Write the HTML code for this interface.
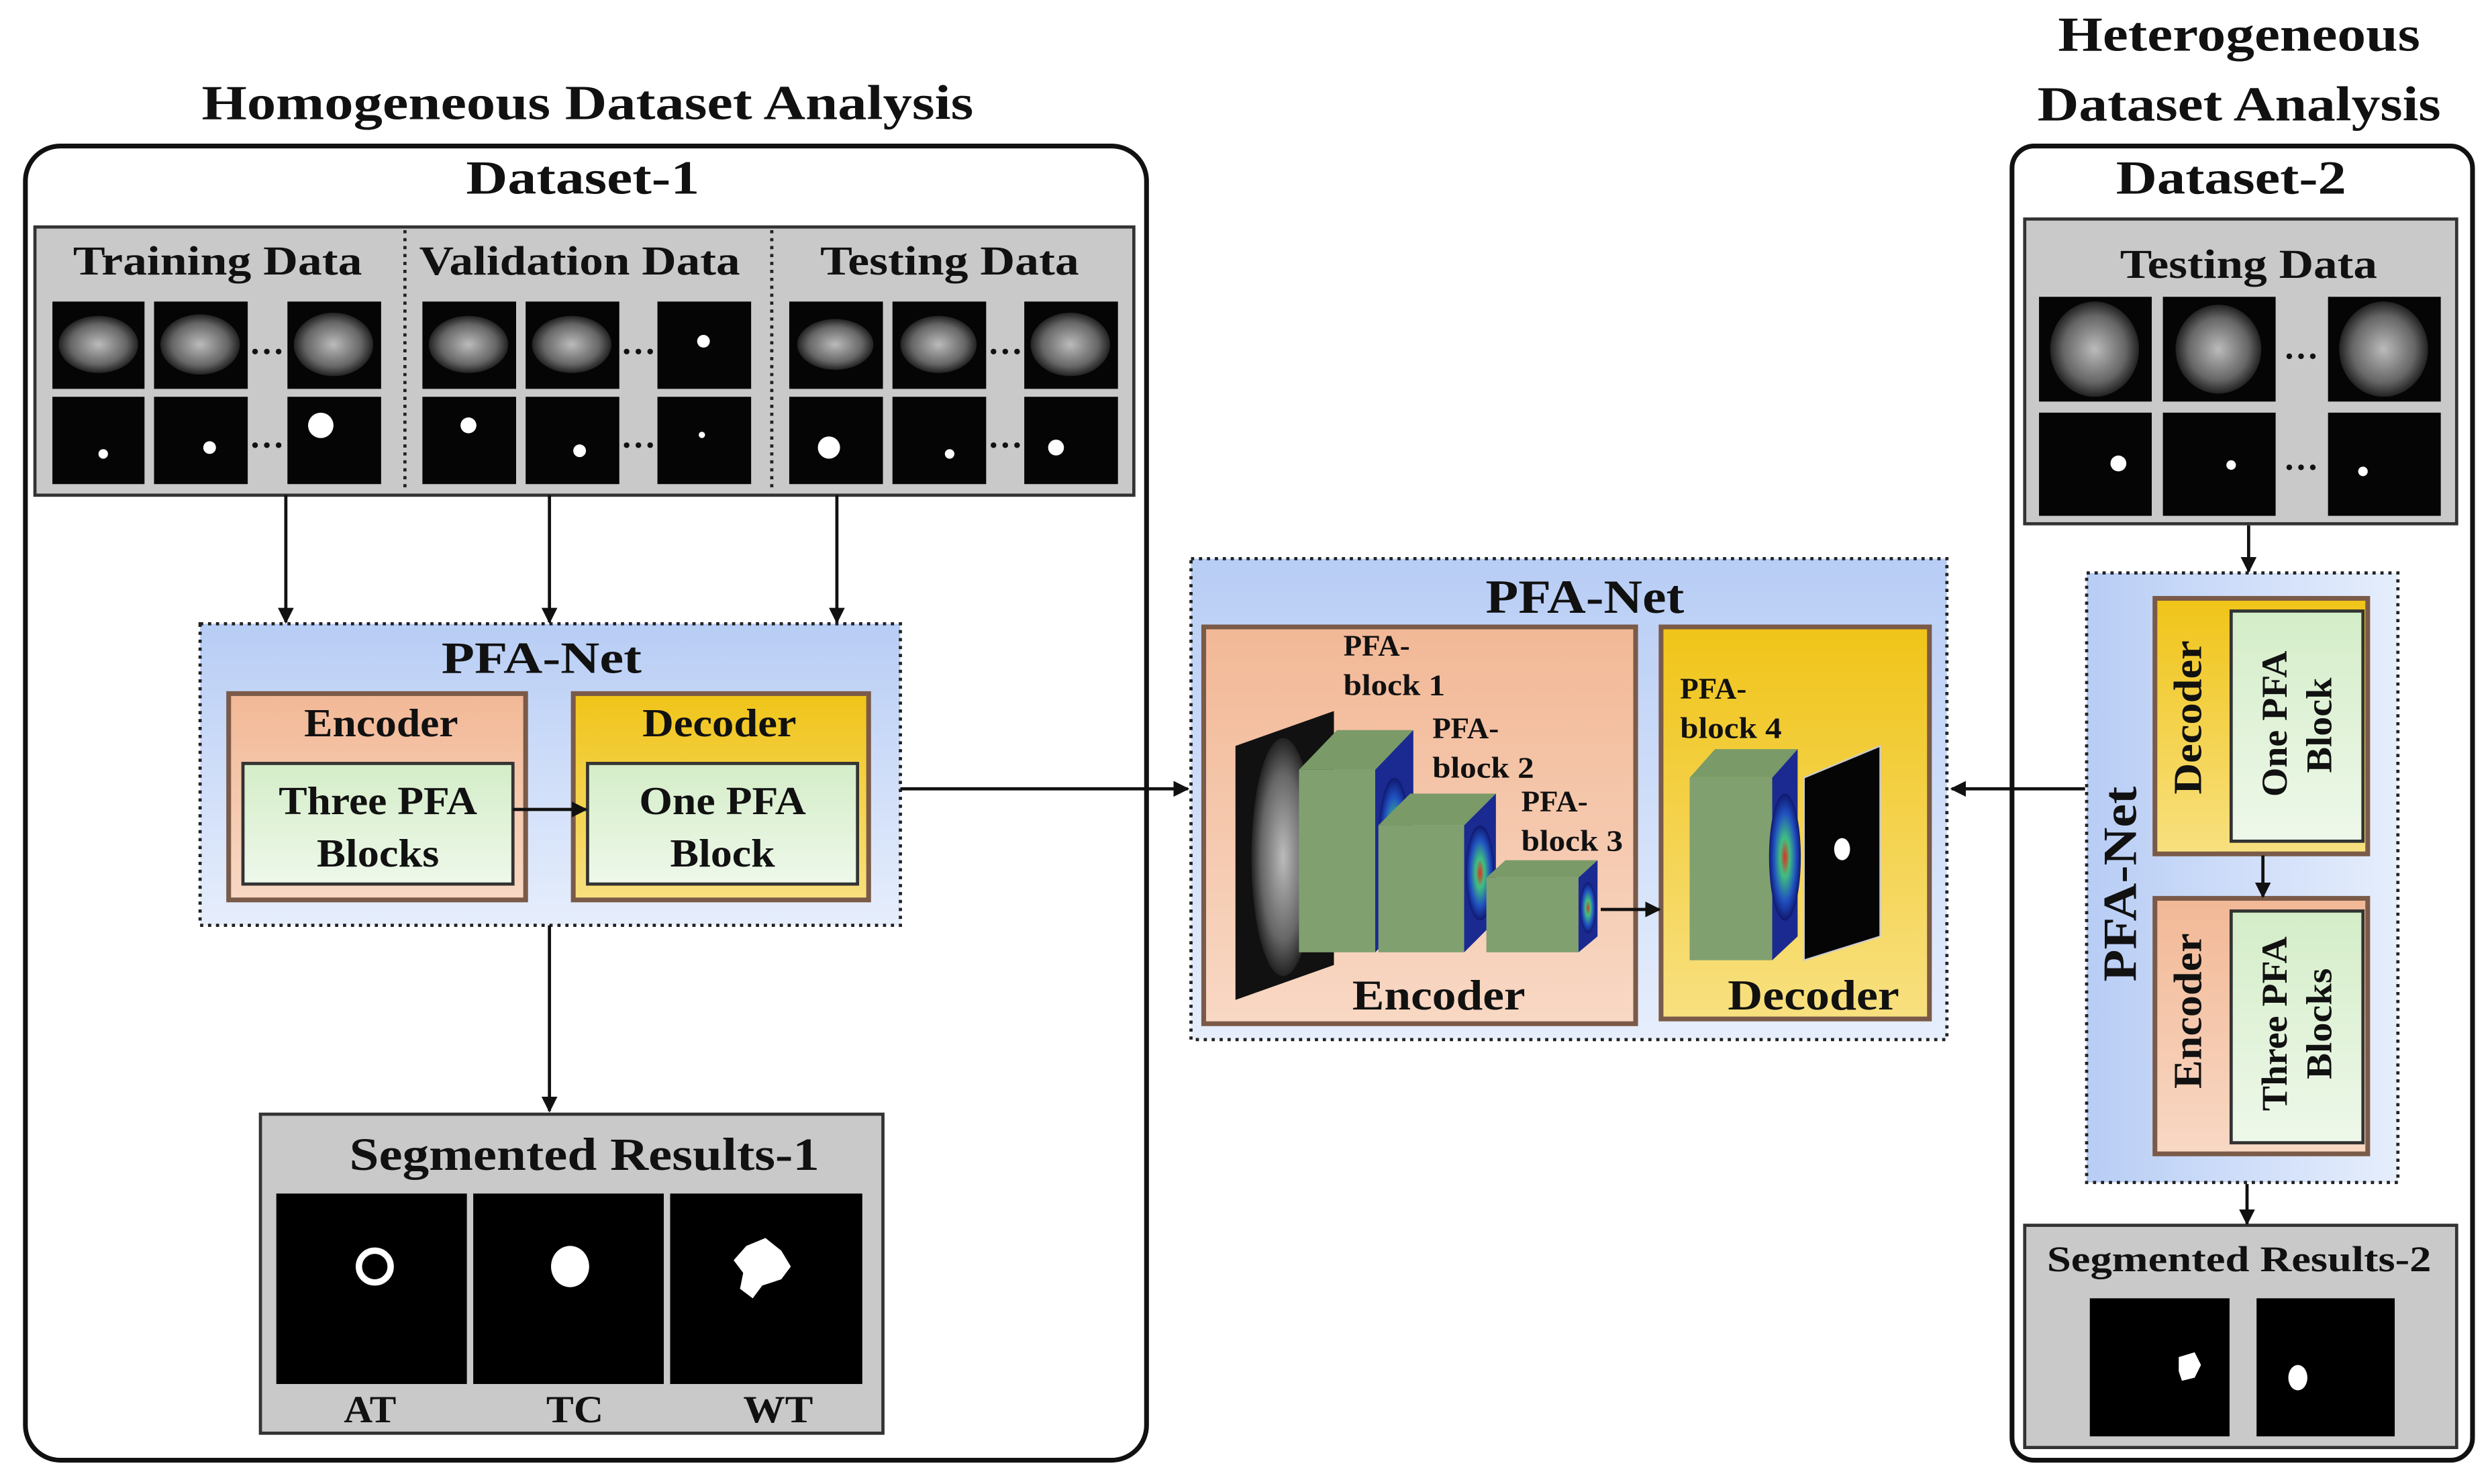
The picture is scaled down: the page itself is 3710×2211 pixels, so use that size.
<!DOCTYPE html>
<html><head><meta charset="utf-8"><style>
html,body{margin:0;padding:0;background:#fff;}
svg{display:block;}
text{font-family:"Liberation Serif",serif;font-weight:bold;fill:#111;}
</style></head><body>
<svg width="3710" height="2211" viewBox="0 0 1568 935" preserveAspectRatio="none" xmlns="http://www.w3.org/2000/svg">
<defs>
<marker id="ah" markerWidth="10" markerHeight="10" refX="9" refY="5" orient="auto" markerUnits="userSpaceOnUse">
<path d="M0,0 L10,5 L0,10 z" fill="#111"/></marker>
<linearGradient id="blue" x1="0" y1="0" x2="0" y2="1"><stop offset="0" stop-color="#b8cdf5"/><stop offset="1" stop-color="#e6eefc"/></linearGradient>
<linearGradient id="blueh" x1="0" y1="0" x2="1" y2="0"><stop offset="0" stop-color="#b8cdf5"/><stop offset="1" stop-color="#e6eefc"/></linearGradient>
<linearGradient id="sal" x1="0" y1="0" x2="0" y2="1"><stop offset="0" stop-color="#f2b896"/><stop offset="1" stop-color="#f8d8c4"/></linearGradient>
<linearGradient id="gold" x1="0" y1="0" x2="0" y2="1"><stop offset="0" stop-color="#f0c418"/><stop offset="1" stop-color="#f8e080"/></linearGradient>
<linearGradient id="grn" x1="0" y1="0" x2="0" y2="1"><stop offset="0" stop-color="#d4edc8"/><stop offset="1" stop-color="#eef8ea"/></linearGradient>
<radialGradient id="brain"><stop offset="0" stop-color="#bbb"/><stop offset="0.7" stop-color="#666"/><stop offset="1" stop-color="#222"/></radialGradient>
<radialGradient id="heat"><stop offset="0" stop-color="#e03020"/><stop offset="0.3" stop-color="#40c080"/><stop offset="0.7" stop-color="#2050c0"/><stop offset="1" stop-color="#101870"/></radialGradient>
</defs>

<text x="370" y="75" font-size="31" text-anchor="middle" textLength="486" lengthAdjust="spacingAndGlyphs">Homogeneous Dataset Analysis</text>
<text x="1410" y="32" font-size="31" text-anchor="middle" textLength="228" lengthAdjust="spacingAndGlyphs">Heterogeneous</text>
<text x="1410" y="76" font-size="31" text-anchor="middle" textLength="254" lengthAdjust="spacingAndGlyphs">Dataset Analysis</text>

<rect x="16" y="92" width="706" height="828" rx="22" fill="#fff" stroke="#111" stroke-width="3"/>
<text x="367" y="122" font-size="30" text-anchor="middle" textLength="147" lengthAdjust="spacingAndGlyphs">Dataset-1</text>
<rect x="22" y="143" width="692" height="169" fill="#c9c9c9" stroke="#333" stroke-width="2"/>
<line x1="255" y1="145" x2="255" y2="310" stroke="#222" stroke-width="2" stroke-dasharray="2,3"/>
<line x1="486" y1="145" x2="486" y2="310" stroke="#222" stroke-width="2" stroke-dasharray="2,3"/>
<text x="137" y="173" font-size="26" text-anchor="middle" textLength="182" lengthAdjust="spacingAndGlyphs">Training Data</text>
<text x="365" y="173" font-size="26" text-anchor="middle" textLength="202" lengthAdjust="spacingAndGlyphs">Validation Data</text>
<text x="598" y="173" font-size="26" text-anchor="middle" textLength="163" lengthAdjust="spacingAndGlyphs">Testing Data</text>
<g fill="#050505">
<rect x="33" y="190" width="58" height="55"/><rect x="97" y="190" width="59" height="55"/><rect x="181" y="190" width="59" height="55"/>
<rect x="33" y="250" width="58" height="55"/><rect x="97" y="250" width="59" height="55"/><rect x="181" y="250" width="59" height="55"/>
<rect x="266" y="190" width="59" height="55"/><rect x="331" y="190" width="59" height="55"/><rect x="414" y="190" width="59" height="55"/>
<rect x="266" y="250" width="59" height="55"/><rect x="331" y="250" width="59" height="55"/><rect x="414" y="250" width="59" height="55"/>
<rect x="497" y="190" width="59" height="55"/><rect x="562" y="190" width="59" height="55"/><rect x="645" y="190" width="59" height="55"/>
<rect x="497" y="250" width="59" height="55"/><rect x="562" y="250" width="59" height="55"/><rect x="645" y="250" width="59" height="55"/>
</g>
<g fill="url(#brain)">
<ellipse cx="62" cy="217" rx="25" ry="18"/><ellipse cx="126" cy="217" rx="25" ry="19"/><ellipse cx="210" cy="217" rx="25" ry="20"/>
<ellipse cx="295" cy="217" rx="25" ry="18"/><ellipse cx="360" cy="217" rx="25" ry="18"/>
<ellipse cx="526" cy="217" rx="24" ry="16"/><ellipse cx="591" cy="217" rx="24" ry="18"/><ellipse cx="674" cy="217" rx="25" ry="20"/>
</g>
<g fill="#fff">
<circle cx="65" cy="286" r="3"/><circle cx="132" cy="282" r="4"/><circle cx="202" cy="268" r="8"/>
<circle cx="295" cy="268" r="5"/><circle cx="365" cy="284" r="4"/><circle cx="442" cy="274" r="2"/><circle cx="443" cy="215" r="4"/>
<circle cx="522" cy="282" r="7"/><circle cx="598" cy="286" r="3"/><circle cx="665" cy="282" r="5"/>
</g>
<g font-size="22" text-anchor="middle"><text x="168" y="223">…</text><text x="168" y="282">…</text><text x="402" y="223">…</text><text x="402" y="282">…</text><text x="633" y="223">…</text><text x="633" y="282">…</text></g>

<rect x="126" y="393" width="441" height="190" fill="url(#blue)" stroke="#222" stroke-width="2" stroke-dasharray="2,3"/>
<text x="341" y="424" font-size="28" text-anchor="middle" textLength="126" lengthAdjust="spacingAndGlyphs">PFA-Net</text>
<rect x="144" y="437" width="187" height="130" fill="url(#sal)" stroke="#7a5a48" stroke-width="3"/>
<rect x="153" y="481" width="170" height="76" fill="url(#grn)" stroke="#333" stroke-width="2"/>
<text x="240" y="464" font-size="25" text-anchor="middle" textLength="97" lengthAdjust="spacingAndGlyphs">Encoder</text>
<text x="238" y="513" font-size="25" text-anchor="middle" textLength="125" lengthAdjust="spacingAndGlyphs">Three PFA</text>
<text x="238" y="546" font-size="25" text-anchor="middle" textLength="77" lengthAdjust="spacingAndGlyphs">Blocks</text>
<rect x="361" y="437" width="186" height="130" fill="url(#gold)" stroke="#7a5a48" stroke-width="3"/>
<rect x="370" y="481" width="170" height="76" fill="url(#grn)" stroke="#333" stroke-width="2"/>
<text x="453" y="464" font-size="25" text-anchor="middle" textLength="97" lengthAdjust="spacingAndGlyphs">Decoder</text>
<text x="455" y="513" font-size="25" text-anchor="middle" textLength="105" lengthAdjust="spacingAndGlyphs">One PFA</text>
<text x="455" y="546" font-size="25" text-anchor="middle" textLength="66" lengthAdjust="spacingAndGlyphs">Block</text>

<rect x="164" y="702" width="392" height="201" fill="#c9c9c9" stroke="#333" stroke-width="2"/>
<text x="368" y="737" font-size="29" text-anchor="middle" textLength="296" lengthAdjust="spacingAndGlyphs">Segmented Results-1</text>
<rect x="174" y="752" width="120" height="120" fill="#000"/><rect x="298" y="752" width="120" height="120" fill="#000"/><rect x="422" y="752" width="121" height="120" fill="#000"/>
<circle cx="236" cy="798" r="10" fill="none" stroke="#fff" stroke-width="4"/>
<ellipse cx="359" cy="798" rx="12" ry="13" fill="#fff"/>
<path d="M470,785 l12,-5 l10,8 l6,10 l-6,8 l-12,4 l-6,8 l-8,-6 l2,-10 l-6,-8z" fill="#fff"/>
<text x="233" y="896" font-size="24" text-anchor="middle" textLength="33" lengthAdjust="spacingAndGlyphs">AT</text>
<text x="362" y="896" font-size="24" text-anchor="middle" textLength="36" lengthAdjust="spacingAndGlyphs">TC</text>
<text x="490" y="896" font-size="24" text-anchor="middle" textLength="44" lengthAdjust="spacingAndGlyphs">WT</text>

<rect x="750" y="352" width="476" height="303" fill="url(#blue)" stroke="#222" stroke-width="2" stroke-dasharray="2,3"/>
<text x="998" y="386" font-size="30" text-anchor="middle" textLength="125" lengthAdjust="spacingAndGlyphs">PFA-Net</text>
<rect x="758" y="395" width="272" height="250" fill="url(#sal)" stroke="#7a5a48" stroke-width="3"/>
<rect x="1046" y="395" width="169" height="247" fill="url(#gold)" stroke="#7a5a48" stroke-width="3"/>
<polygon points="778,470 840,448 840,608 778,630" fill="#111"/>
<ellipse cx="808" cy="540" rx="20" ry="75" fill="url(#brain)"/>
<polygon points="818,485 842,460 890,460 866,485" fill="#7a9a68"/>
<rect x="818" y="485" width="48" height="115" fill="#80a070"/>
<polygon points="866,485 890,460 890,575 866,600" fill="#1a2a90"/>
<ellipse cx="878" cy="530" rx="10" ry="40" fill="url(#heat)"/>
<polygon points="868,520 888,500 942,500 922,520" fill="#7a9a68"/>
<rect x="868" y="520" width="54" height="80" fill="#80a070"/>
<polygon points="922,520 942,500 942,580 922,600" fill="#1a2a90"/>
<ellipse cx="932" cy="550" rx="9" ry="30" fill="url(#heat)"/>
<polygon points="936,553 948,542 1006,542 994,553" fill="#7a9a68"/>
<rect x="936" y="553" width="58" height="47" fill="#80a070"/>
<polygon points="994,553 1006,542 1006,590 994,600" fill="#1a2a90"/>
<ellipse cx="1000" cy="572" rx="5" ry="16" fill="url(#heat)"/>
<g font-size="19"><text x="846" y="413">PFA-</text><text x="846" y="438" textLength="64" lengthAdjust="spacingAndGlyphs">block 1</text>
<text x="902" y="465">PFA-</text><text x="902" y="490" textLength="64" lengthAdjust="spacingAndGlyphs">block 2</text>
<text x="958" y="511">PFA-</text><text x="958" y="536" textLength="64" lengthAdjust="spacingAndGlyphs">block 3</text>
<text x="1058" y="440">PFA-</text><text x="1058" y="465" textLength="64" lengthAdjust="spacingAndGlyphs">block 4</text></g>
<text x="906" y="636" font-size="27" text-anchor="middle" textLength="109" lengthAdjust="spacingAndGlyphs">Encoder</text>
<polygon points="1064,490 1080,472 1132,472 1116,490" fill="#7a9a68"/>
<rect x="1064" y="490" width="52" height="115" fill="#80a070"/>
<polygon points="1116,490 1132,472 1132,590 1116,605" fill="#1a2a90"/>
<ellipse cx="1124" cy="540" rx="10" ry="40" fill="url(#heat)"/>
<polygon points="1136,490 1184,470 1184,590 1136,605" fill="#050505" stroke="#ccc" stroke-width="1"/>
<ellipse cx="1160" cy="535" rx="5" ry="7" fill="#fff"/>
<text x="1142" y="636" font-size="27" text-anchor="middle" textLength="108" lengthAdjust="spacingAndGlyphs">Decoder</text>

<rect x="1267" y="92" width="290" height="828" rx="14" fill="#fff" stroke="#111" stroke-width="3"/>
<text x="1405" y="122" font-size="30" text-anchor="middle" textLength="145" lengthAdjust="spacingAndGlyphs">Dataset-2</text>
<rect x="1275" y="138" width="272" height="192" fill="#c9c9c9" stroke="#333" stroke-width="2"/>
<text x="1416" y="175" font-size="26" text-anchor="middle" textLength="162" lengthAdjust="spacingAndGlyphs">Testing Data</text>
<g fill="#050505">
<rect x="1284" y="187" width="71" height="66"/><rect x="1362" y="187" width="71" height="66"/><rect x="1466" y="187" width="71" height="66"/>
<rect x="1284" y="260" width="71" height="65"/><rect x="1362" y="260" width="71" height="65"/><rect x="1466" y="260" width="71" height="65"/>
</g>
<g fill="url(#brain)"><ellipse cx="1319" cy="220" rx="28" ry="30"/><ellipse cx="1397" cy="220" rx="27" ry="28"/><ellipse cx="1501" cy="220" rx="28" ry="30"/></g>
<g fill="#fff"><circle cx="1334" cy="292" r="5"/><circle cx="1405" cy="293" r="3"/><circle cx="1488" cy="297" r="3"/></g>
<g font-size="22" text-anchor="middle"><text x="1449" y="226">…</text><text x="1449" y="296">…</text></g>

<rect x="1314" y="361" width="196" height="384" fill="url(#blueh)" stroke="#222" stroke-width="2" stroke-dasharray="2,3"/>
<text transform="translate(1345,557) rotate(-90)" font-size="30" text-anchor="middle" textLength="123" lengthAdjust="spacingAndGlyphs">PFA-Net</text>
<rect x="1357" y="377" width="134" height="161" fill="url(#gold)" stroke="#7a5a48" stroke-width="3"/>
<rect x="1405" y="385" width="83" height="145" fill="url(#grn)" stroke="#333" stroke-width="2"/>
<text transform="translate(1386,452) rotate(-90)" font-size="25" text-anchor="middle" textLength="97" lengthAdjust="spacingAndGlyphs">Decoder</text>
<text transform="translate(1440,456) rotate(-90)" font-size="23" text-anchor="middle" textLength="92" lengthAdjust="spacingAndGlyphs">One PFA</text>
<text transform="translate(1468,457) rotate(-90)" font-size="23" text-anchor="middle" textLength="60" lengthAdjust="spacingAndGlyphs">Block</text>
<rect x="1357" y="566" width="134" height="161" fill="url(#sal)" stroke="#7a5a48" stroke-width="3"/>
<rect x="1405" y="574" width="83" height="146" fill="url(#grn)" stroke="#333" stroke-width="2"/>
<text transform="translate(1386,637) rotate(-90)" font-size="25" text-anchor="middle" textLength="98" lengthAdjust="spacingAndGlyphs">Encoder</text>
<text transform="translate(1440,645) rotate(-90)" font-size="23" text-anchor="middle" textLength="110" lengthAdjust="spacingAndGlyphs">Three PFA</text>
<text transform="translate(1468,645) rotate(-90)" font-size="23" text-anchor="middle" textLength="70" lengthAdjust="spacingAndGlyphs">Blocks</text>

<rect x="1275" y="772" width="272" height="140" fill="#c9c9c9" stroke="#333" stroke-width="2"/>
<text x="1410" y="801" font-size="23" text-anchor="middle" textLength="242" lengthAdjust="spacingAndGlyphs">Segmented Results-2</text>
<rect x="1316" y="818" width="88" height="87" fill="#000"/><rect x="1421" y="818" width="87" height="87" fill="#000"/>
<path d="M1372,855 l10,-3 l4,8 l-4,8 l-8,2 l-2,-6z" fill="#fff"/>
<ellipse cx="1447" cy="868" rx="6" ry="8" fill="#fff"/>

<g stroke="#111" stroke-width="2" marker-end="url(#ah)">
<line x1="180" y1="312" x2="180" y2="392"/><line x1="346" y1="312" x2="346" y2="392"/><line x1="527" y1="312" x2="527" y2="392"/>
<line x1="323" y1="510" x2="369" y2="510"/>
<line x1="346" y1="583" x2="346" y2="700"/>
<line x1="567" y1="497" x2="748" y2="497"/>
<line x1="1313" y1="497" x2="1229" y2="497"/>
<line x1="1008" y1="573" x2="1045" y2="573"/>
<line x1="1416" y1="331" x2="1416" y2="360"/>
<line x1="1425" y1="539" x2="1425" y2="565"/>
<line x1="1415" y1="746" x2="1415" y2="771"/>
</g>
</svg>
</body></html>
